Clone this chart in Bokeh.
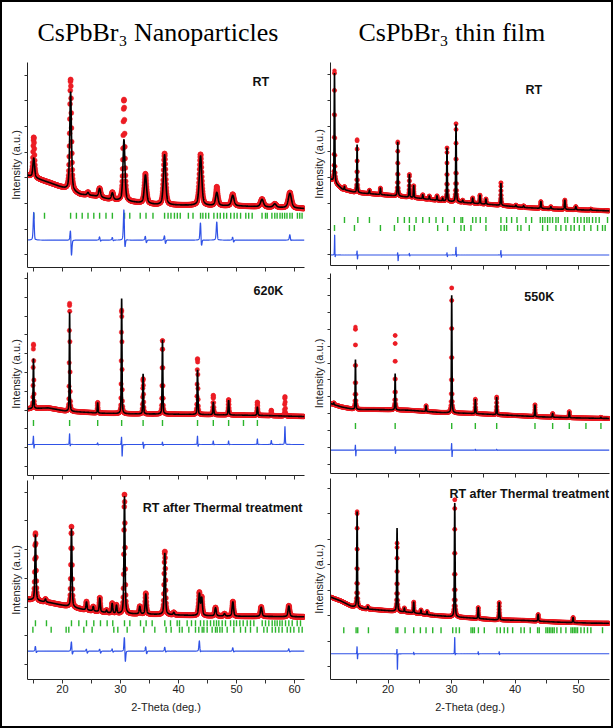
import numpy as np
from bokeh.plotting import figure
from bokeh.layouts import column, row
from bokeh.models import FixedTicker, Range1d, Label, Spacer
from bokeh.embed import file_html
from bokeh.resources import INLINE

# ---------------------------------------------------------------- texts
col_titles = ["CsPbBr\u2083 Nanoparticles", "CsPbBr\u2083 thin film"]
x_label = "2-Theta (deg.)"
y_label = "Intensity (a.u.)"
np_x_ticks = [15, 20, 25, 30, 35, 40, 45, 50, 55, 60]
tf_x_ticks = [15, 20, 25, 30, 35, 40, 45, 50]
x_tick_labels = {15: "", 20: "20", 25: "", 30: "30", 35: "", 40: "40", 45: "", 50: "50", 55: "", 60: "60"}

# ================================================================ DATA
# ---- CsPbBr3 nanoparticles, RT ----
np_rt_label = "RT"
np_rt_bg_x = [13.97, 17.9, 20.2, 23.1, 25.4, 28.3, 32.3, 36.3, 41.5, 50.7, 61.0, 61.75]
np_rt_bg_y = [3100, 2800, 2600, 2350, 2300, 2150, 2050, 1950, 1930, 1900, 1810, 1800]
np_rt_pk_pos = [15.05, 21.4, 24.4, 26.4, 28.6, 30.6, 34.3, 37.6, 43.8, 46.6, 49.35, 54.4, 56.6, 59.2]
np_rt_pk_calc = [760, 3860, 100, 330, 260, 2400, 1110, 1960, 1930, 510, 410, 290, 130, 570]
np_rt_pk_obs = [1560, 4340, 110, 340, 280, 3960, 1150, 2000, 1990, 730, 450, 300, 130, 600]
np_rt_pk_fwhm = [0.35, 0.35, 0.35, 0.4, 0.4, 0.4, 0.45, 0.45, 0.5, 0.5, 0.55, 0.6, 0.6, 0.65]
np_rt_bragg = [15.05, 16.9, 21.4, 22.4, 23.4, 24.4, 25.4, 26.4, 27.5, 28.6, 30.7, 31.6, 33.4, 34.4,
               35.6, 37.6, 38.2, 38.7, 39.3, 39.8, 40.3, 41.7, 42.5, 43.8, 44.2, 44.7, 45.2, 46.1,
               46.7, 47.2, 47.8, 48.3, 49.0, 49.6, 50.1, 50.7, 51.6, 52.1, 52.7, 54.4, 55.0, 55.3,
               56.1, 56.6, 57.0, 57.5, 57.9, 58.3, 58.7, 59.2, 59.6, 60.5, 60.9, 61.3]
np_rt_diff_pos = [15.05, 21.4, 26.4, 28.6, 30.6, 34.3, 37.6, 43.8, 46.6, 49.35, 59.2]
np_rt_diff_up = [1130, 590, 150, 120, 1400, 200, 230, 820, 740, 150, 230]
np_rt_diff_down = [120, 780, 80, 60, 620, 160, 200, 430, 80, 120, 60]

# ---- CsPbBr3 nanoparticles, 620 K ----
np_hot_label = "620K"
np_hot_bg_x = [13.97, 17.5, 20.5, 26.5, 32.0, 38.0, 44.0, 50.0, 55.0, 61.75]
np_hot_bg_y = [3070, 3120, 2950, 2840, 2800, 2790, 2766, 2740, 2713, 2660]
np_hot_pk_pos = [15.0, 21.23, 26.07, 30.2, 33.9, 37.24, 43.28, 46.0, 48.64, 53.6, 56.0, 58.35]
np_hot_pk_calc = [2660, 5260, 550, 6120, 2130, 3950, 2374, 660, 770, 436, 0, 0]
np_hot_pk_obs = [3420, 5740, 550, 5500, 1865, 3900, 2960, 1017, 800, 700, 280, 1030]
np_hot_pk_fwhm = [0.13, 0.13, 0.14, 0.14, 0.15, 0.15, 0.16, 0.17, 0.17, 0.18, 0.35, 0.2]
np_hot_bragg = [15.0, 21.23, 26.07, 30.2, 33.9, 37.24, 43.28, 46.0, 48.64, 51.2, 53.6]
np_hot_diff_pos = [15.0, 21.23, 26.07, 30.2, 33.9, 37.24, 43.28, 46.0, 48.64, 53.6, 56.0, 58.35]
np_hot_diff_up = [570, 656, 100, 656, 210, 160, 530, 210, 210, 320, 210, 960]
np_hot_diff_down = [355, 230, 50, 850, 270, 100, 230, 60, 60, 60, 0, 0]

# ---- CsPbBr3 nanoparticles, RT after thermal treatment ----
np_after_label = "RT after Thermal treatment"
np_after_bg_x = [13.97, 17.93, 20.8, 23.67, 26.55, 29.43, 33.45, 38.05, 43.79, 49.53, 55.29, 61.75]
np_after_bg_y = [2270, 2150, 2030, 1910, 1830, 1770, 1760, 1735, 1700, 1680, 1675, 1660]
np_after_pk_pos = [15.34, 17.07, 21.55, 24.14, 25.3, 26.43, 27.6, 28.57, 29.31, 30.69, 33.33, 34.36,
                   37.64, 39.19, 43.6, 44.0, 46.38, 47.93, 49.37, 54.26, 59.02]
np_after_pk_calc = [2300, 100, 2730, 280, 150, 480, 80, 330, 280, 4090, 260, 700,
                    2140, 80, 750, 600, 280, 80, 500, 320, 370]
np_after_pk_obs = [2350, 100, 2800, 290, 150, 490, 80, 340, 290, 4150, 260, 720,
                   2200, 80, 780, 620, 290, 80, 510, 330, 380]
np_after_pk_fwhm = [0.22, 0.25, 0.22, 0.22, 0.22, 0.22, 0.22, 0.22, 0.22, 0.22, 0.25, 0.25,
                    0.25, 0.25, 0.3, 0.3, 0.3, 0.3, 0.3, 0.32, 0.34]
np_after_bragg_a = [15.34, 17.24, 21.55, 22.82, 24.14, 25.4, 26.55, 27.7, 28.67, 30.69, 31.61, 33.45,
                    34.42, 35.46, 37.64, 38.62, 39.77, 40.17, 41.49, 42.24, 42.93, 43.79, 44.37, 44.94,
                    45.52, 46.09, 46.55, 46.95, 47.53, 48.1, 48.97, 49.54, 50.0, 50.57, 51.15, 51.84,
                    52.41, 52.99, 54.43, 55.0, 55.57, 56.15, 56.61, 57.01, 57.47, 57.87, 58.45, 59.02,
                    59.6, 60.46, 61.03]
np_after_bragg_b = [14.9, 18.05, 20.63, 21.09, 23.68, 25.11, 28.85, 29.54, 31.15, 34.02, 35.92, 37.87,
                    38.73, 40.17, 40.63, 41.78, 42.93, 43.5, 44.08, 44.37, 44.94, 45.8, 46.38, 46.67,
                    47.13, 47.53, 48.39, 49.54, 50.69, 51.55, 52.41, 53.56, 54.71, 55.29, 56.15, 56.72,
                    57.3, 57.87, 58.74, 59.31, 59.89, 60.75, 61.32]
np_after_diff_pos = [15.34, 21.55, 24.14, 26.43, 28.57, 30.69, 34.36, 37.64, 43.6, 49.37, 59.02]
np_after_diff_up = [200, 395, 100, 100, 100, 660, 200, 160, 395, 140, 100]
np_after_diff_down = [100, 210, 100, 100, 60, 560, 150, 70, 100, 60, 50]

# ---- CsPbBr3 thin film, RT ----
tf_rt_label = "RT"
tf_rt_bg_x = [10.94, 12.81, 14.9, 18.05, 21.19, 24.86, 28.52, 32.19, 36.9, 41.62, 46.86, 52.1, 54.86]
tf_rt_bg_y = [2950, 2555, 2424, 2361, 2295, 2205, 2101, 2034, 1945, 1840, 1778, 1739, 1712]
tf_rt_pk_pos = [11.57, 13.14, 15.13, 17.07, 18.8, 21.53, 23.36, 24.04, 25.46, 26.5, 27.71, 28.6, 29.28,
                30.7, 31.75, 33.32, 34.47, 35.41, 37.77, 40.13, 41.34, 44.06, 45.63, 47.83, 49.56, 51.92]
tf_rt_pk_calc = [4240, 120, 1866, 130, 250, 2106, 880, 460, 150, 130, 170, 100, 2064,
                 3004, 80, 200, 330, 200, 860, 60, 60, 260, 80, 360, 120, 40]
tf_rt_pk_obs = [4335, 120, 2061, 130, 250, 2106, 880, 460, 150, 130, 170, 100, 2064,
                3030, 80, 200, 330, 200, 880, 60, 60, 260, 80, 360, 120, 40]
tf_rt_pk_fwhm = [0.12] * 13 + [0.13] * 6 + [0.15] * 7
tf_rt_bragg_a = [13.14, 15.24, 17.07, 21.53, 22.57, 23.36, 24.41, 25.46, 26.5, 27.55, 28.6, 30.43,
                 31.48, 31.74, 33.32, 33.84, 34.52, 35.41, 37.77, 38.66, 39.45, 40.29, 41.7, 42.6,
                 43.96, 44.33, 44.7, 45.11, 45.48, 45.9, 46.43, 46.79, 47.84, 48.26, 49.31, 49.83,
                 50.36, 50.88, 51.3, 51.67, 52.19, 52.72, 53.24, 54.55]
tf_rt_bragg_b = [11.57, 14.71, 18.8, 21.0, 23.36, 24.14, 27.81, 29.38, 31.48, 32.0, 33.05, 35.41,
                 37.77, 38.29, 38.66, 40.39, 40.92, 42.23, 44.33, 45.11, 46.43, 47.21, 48.0, 48.79,
                 49.31, 50.1, 50.88, 51.93, 52.98, 53.76, 54.18]
tf_rt_diff_pos = [11.6, 15.13, 21.53, 23.36, 29.28, 30.7, 37.77]
tf_rt_diff_up = [880, 230, 170, 80, 120, 360, 230]
tf_rt_diff_down = [280, 230, 285, 60, 100, 150, 155]

# ---- CsPbBr3 thin film, 550 K ----
tf_hot_label = "550K"
tf_hot_bg_x = [10.94, 12.62, 14.72, 17.85, 23.1, 28.34, 33.58, 38.82, 44.06, 49.3, 54.86]
tf_hot_bg_y = [3595, 3397, 3239, 3239, 3200, 3062, 3002, 2903, 2805, 2745, 2706]
tf_hot_pk_pos = [11.46, 14.87, 21.12, 25.99, 30.02, 33.74, 37.1, 43.13, 45.91, 48.53, 53.51]
tf_hot_pk_calc = [100, 2960, 2154, 340, 6983, 830, 1020, 690, 220, 350, 60]
tf_hot_pk_obs = [100, 4900, 4423, 340, 7416, 850, 1040, 700, 220, 360, 60]
tf_hot_pk_fwhm = [0.11] * 11
tf_hot_bragg = [14.87, 21.12, 30.02, 33.74, 37.1, 43.13, 45.91, 48.53, 51.15, 53.51]
tf_hot_diff_pos = [14.87, 21.12, 30.02, 33.74, 37.1]
tf_hot_diff_up = [455, 300, 590, 60, 60]
tf_hot_diff_down = [490, 300, 590, 40, 40]

# ---- CsPbBr3 thin film, RT after thermal treatment ----
tf_after_label = "RT after Thermal treatment"
tf_after_bg_x = [10.94, 12.62, 14.19, 16.28, 19.43, 23.1, 27.29, 29.38, 32.53, 36.72, 41.44, 46.68, 51.92, 54.86]
tf_after_bg_y = [2728, 2571, 2374, 2270, 2205, 2138, 2008, 1968, 1916, 1837, 1811, 1745, 1706, 1700]
tf_after_pk_pos = [15.13, 16.81, 21.42, 22.57, 24.04, 25.19, 26.14, 30.5, 34.2, 37.5, 43.63, 49.13]
tf_after_pk_calc = [3765, 100, 3270, 150, 420, 150, 120, 4470, 430, 680, 260, 200]
tf_after_pk_obs = [3765, 100, 2680, 150, 420, 150, 120, 4600, 430, 680, 260, 200]
tf_after_pk_fwhm = [0.12, 0.12, 0.13, 0.12, 0.12, 0.12, 0.12, 0.13, 0.13, 0.14, 0.15, 0.15]
tf_after_bragg = [13.03, 14.97, 15.23, 16.91, 21.26, 21.53, 22.68, 24.04, 25.09, 25.98, 27.03, 28.34,
                  30.18, 30.71, 31.23, 33.06, 33.33, 33.59, 34.22, 35.15, 37.14, 37.67, 38.29, 38.82,
                  39.61, 40.92, 41.44, 42.38, 43.54, 43.8, 44.85, 45.11, 45.38, 45.64, 45.9, 46.16,
                  46.58, 47.21, 48.0, 48.79, 49.05, 49.31, 49.57, 49.83, 50.36, 50.88, 51.4, 51.93, 53.76]
tf_after_diff_pos = [15.13, 21.42, 24.04, 30.5, 34.2, 37.5]
tf_after_diff_up = [390, 390, 80, 720, 100, 100]
tf_after_diff_down = [330, 760, 60, 200, 60, 60]

# ================================================================ STYLE
RED = "#ec1c24"
GREEN = "#2cb52c"
BLUE = "#2f52e6"
AXIS = "#222222"


def pv(x, pos, h, w, eta):
    x = np.asarray(x, float)[:, None]
    pos = np.asarray(pos, float)[None, :]
    h = np.asarray(h, float)[None, :]
    w = np.broadcast_to(np.asarray(w, float), pos.shape)
    d = (x - pos) / (w / 2.0)
    return (h * (eta / (1 + d ** 2) + (1 - eta) * np.exp(-np.log(2) * d ** 2))).sum(axis=1)


def hide_labels(ax):
    ax.major_label_text_font_size = "0px"
    ax.major_label_text_color = None
    ax.major_label_text_alpha = 0
    ax.major_label_standoff = 0


def make_panel(s):
    p = figure(width=s["width"], height=s["height"], output_backend="svg", toolbar_location=None,
               x_range=Range1d(*s["xr"]), y_range=Range1d(*s["yr"]),
               min_border_left=s["mb"][0], min_border_right=s["mb"][1],
               min_border_top=s["mb"][2], min_border_bottom=s["mb"][3])
    p.outline_line_color = None
    p.grid.visible = False
    p.background_fill_color = "white"
    p.border_fill_color = "white"

    xa = p.xaxis[0]
    xa.ticker = FixedTicker(ticks=s["xticks"], minor_ticks=[])
    xa.major_tick_out = 4
    xa.major_tick_in = 0
    xa.axis_line_color = AXIS
    xa.major_tick_line_color = "#333333"
    if s["xlabels"]:
        xa.major_label_overrides = {t: x_tick_labels[t] for t in s["xticks"]}
        xa.major_label_text_font = "Liberation Sans"
        xa.major_label_text_font_size = "11px"
        xa.major_label_text_color = "#222222"
        xa.major_label_standoff = 1
        xa.axis_label = x_label
        xa.axis_label_text_font = "Liberation Sans"
        xa.axis_label_text_font_size = "11px"
        xa.axis_label_text_font_style = "normal"
        xa.axis_label_text_color = "#222222"
        xa.axis_label_standoff = 5
    else:
        hide_labels(xa)

    ya = p.yaxis[0]
    ya.ticker = FixedTicker(ticks=s["yticks"], minor_ticks=[])
    ya.major_tick_out = 3
    ya.major_tick_in = 0
    ya.axis_line_color = AXIS
    ya.major_tick_line_color = "#333333"
    hide_labels(ya)
    ya.axis_label = y_label
    ya.axis_label_text_font = "Liberation Sans"
    ya.axis_label_text_font_size = "11px"
    ya.axis_label_text_font_style = "normal"
    ya.axis_label_text_color = "#222222"
    ya.axis_label_standoff = 3

    if s.get("title"):
        p.title.text = s["title"]
        p.title.text_font = "Liberation Serif"
        p.title.text_font_size = "26px"
        p.title.text_font_style = "normal"
        p.title.text_color = "black"
        p.title.align = "left"
        p.title.vertical_align = "top"
        p.title.offset = s["title_offset"]
        p.title.standoff = 28

    x0, x1 = s["xr"]
    pos = np.asarray(s["pos"], float)
    calc_h = np.asarray(s["calc"], float)
    obs_h = np.asarray(s["obs"], float)
    fw = np.asarray(s["fwhm"], float)
    inside = pos[(pos > x0) & (pos < x1)]

    xo = np.union1d(np.arange(x0 + 0.02, x1, s["step"]), inside)
    yo = np.interp(xo, s["bg_x"], s["bg_y"]) + pv(xo, pos, calc_h, fw, s["eta"]) \
        + pv(xo, pos, obs_h - calc_h, s["wx"], s["eta"])
    p.scatter(xo, yo, size=s["msize"], fill_color=RED, line_color=RED, line_width=0.4)

    xc = np.union1d(np.arange(x0 + 0.01, x1, s["fine"]), inside)
    yc = np.interp(xc, s["bg_x"], s["bg_y"]) + pv(xc, pos, calc_h, fw, s["eta"])
    p.line(xc, yc, line_color="black", line_width=1.6)

    for level, ticks in s["bragg"]:
        p.scatter(ticks, [level] * len(ticks), marker="dash", angle=np.pi / 2, size=6,
                  line_color=GREEN, line_width=1.4)

    dpos = np.asarray(s["dpos"], float)
    yd = s["dbase"] + pv(xc, dpos, s["dup"], s["dw"], 0.4) - pv(xc, dpos + 0.6 * s["dw"], s["ddown"], s["dw"], 0.4)
    p.line(xc, yd, line_color=BLUE, line_width=1.2)

    p.add_layout(Label(x=s["lab_xy"][0], y=s["lab_xy"][1], text=s["label"], text_align=s["lab_align"],
                       text_baseline="alphabetic", text_font="Liberation Sans", text_font_style="bold",
                       text_font_size="12.5px", text_color="#111111"))
    return p


NPX = (13.97, 61.72)
TFX = (10.94, 54.86)

L1 = make_panel(dict(width=305, height=270, mb=(25, 3, 60, 5), xr=NPX, yr=(-496, 7500),
                     xticks=np_x_ticks, yticks=list(range(0, 7001, 1000)), xlabels=False,
                     title=col_titles[0], title_offset=10,
                     bg_x=np_rt_bg_x, bg_y=np_rt_bg_y, pos=np_rt_pk_pos, calc=np_rt_pk_calc,
                     obs=np_rt_pk_obs, fwhm=np_rt_pk_fwhm, eta=0.5, wx=0.25, step=0.035, fine=0.01, msize=5,
                     bragg=[(1523, np_rt_bragg)], dbase=573, dpos=np_rt_diff_pos, dup=np_rt_diff_up,
                     ddown=np_rt_diff_down, dw=0.22, label=np_rt_label, lab_xy=(52.76, 6757), lab_align="left"))
L2 = make_panel(dict(width=305, height=208, mb=(25, 3, 0, 5), xr=NPX, yr=(-479, 10321),
                     xticks=np_x_ticks, yticks=list(range(0, 10001, 1000)), xlabels=False,
                     bg_x=np_hot_bg_x, bg_y=np_hot_bg_y, pos=np_hot_pk_pos, calc=np_hot_pk_calc,
                     obs=np_hot_pk_obs, fwhm=np_hot_pk_fwhm, eta=0.4, wx=0.12, step=0.03, fine=0.005, msize=4.5,
                     bragg=[(2314, np_hot_bragg)], dbase=1170, dpos=np_hot_diff_pos, dup=np_hot_diff_up,
                     ddown=np_hot_diff_down, dw=0.12, label=np_hot_label, lab_xy=(52.93, 9363), lab_align="left"))
L3 = make_panel(dict(width=305, height=246, mb=(25, 3, 0, 47), xr=NPX, yr=(-523, 6411),
                     xticks=np_x_ticks, yticks=list(range(0, 6001, 1000)), xlabels=True,
                     bg_x=np_after_bg_x, bg_y=np_after_bg_y, pos=np_after_pk_pos, calc=np_after_pk_calc,
                     obs=np_after_pk_obs, fwhm=np_after_pk_fwhm, eta=0.5, wx=0.2, step=0.035, fine=0.008, msize=5,
                     bragg=[(1435, np_after_bragg_a), (1209, np_after_bragg_b)], dbase=464,
                     dpos=np_after_diff_pos, dup=np_after_diff_up, ddown=np_after_diff_down, dw=0.2,
                     label=np_after_label, lab_xy=(61.38, 5470), lab_align="right"))

R1 = make_panel(dict(width=304, height=271, mb=(23, 2, 60, 8), xr=TFX, yr=(-408, 7469),
                     xticks=tf_x_ticks, yticks=list(range(0, 7001, 1000)), xlabels=False,
                     title=col_titles[1], title_offset=28,
                     bg_x=tf_rt_bg_x, bg_y=tf_rt_bg_y, pos=tf_rt_pk_pos, calc=tf_rt_pk_calc,
                     obs=tf_rt_pk_obs, fwhm=tf_rt_pk_fwhm, eta=0.4, wx=0.1, step=0.02, fine=0.004, msize=4,
                     bragg=[(1354, tf_rt_bragg_a), (1043, tf_rt_bragg_b)], dbase=0, dpos=tf_rt_diff_pos,
                     dup=tf_rt_diff_up, ddown=tf_rt_diff_down, dw=0.08, label=tf_rt_label,
                     lab_xy=(41.65, 6419), lab_align="left"))
R2 = make_panel(dict(width=304, height=205, mb=(23, 2, 0, 5), xr=TFX, yr=(-563, 11317),
                     xticks=tf_x_ticks, yticks=list(range(0, 11001, 1000)), xlabels=False,
                     bg_x=tf_hot_bg_x, bg_y=tf_hot_bg_y, pos=tf_hot_pk_pos, calc=tf_hot_pk_calc,
                     obs=tf_hot_pk_obs, fwhm=tf_hot_pk_fwhm, eta=0.4, wx=0.1, step=0.02, fine=0.004, msize=4,
                     bragg=[(2263, tf_hot_bragg)], dbase=830, dpos=tf_hot_diff_pos, dup=tf_hot_diff_up,
                     ddown=tf_hot_diff_down, dw=0.08, label=tf_hot_label, lab_xy=(41.45, 9895), lab_align="left"))
R3 = make_panel(dict(width=304, height=248, mb=(23, 2, 0, 47), xr=TFX, yr=(-512, 7390),
                     xticks=tf_x_ticks, yticks=list(range(0, 7001, 1000)), xlabels=True,
                     bg_x=tf_after_bg_x, bg_y=tf_after_bg_y, pos=tf_after_pk_pos, calc=tf_after_pk_calc,
                     obs=tf_after_pk_obs, fwhm=tf_after_pk_fwhm, eta=0.4, wx=0.1, step=0.02, fine=0.004, msize=4,
                     bragg=[(1429, tf_after_bragg)], dbase=500, dpos=tf_after_diff_pos, dup=tf_after_diff_up,
                     ddown=tf_after_diff_down, dw=0.08, label=tf_after_label, lab_xy=(54.81, 6772),
                     lab_align="right"))

inner = row(column(L1, L2, L3), column(R1, R2, R3),
            styles={"outline": "2px solid #000000", "outline-offset": "0px"})
layout = column(Spacer(width=613, height=2), row(Spacer(width=2, height=724), inner))

open("out.html", "w").write(file_html(layout, INLINE, title="CsPbBr3 Rietveld refinements"))
